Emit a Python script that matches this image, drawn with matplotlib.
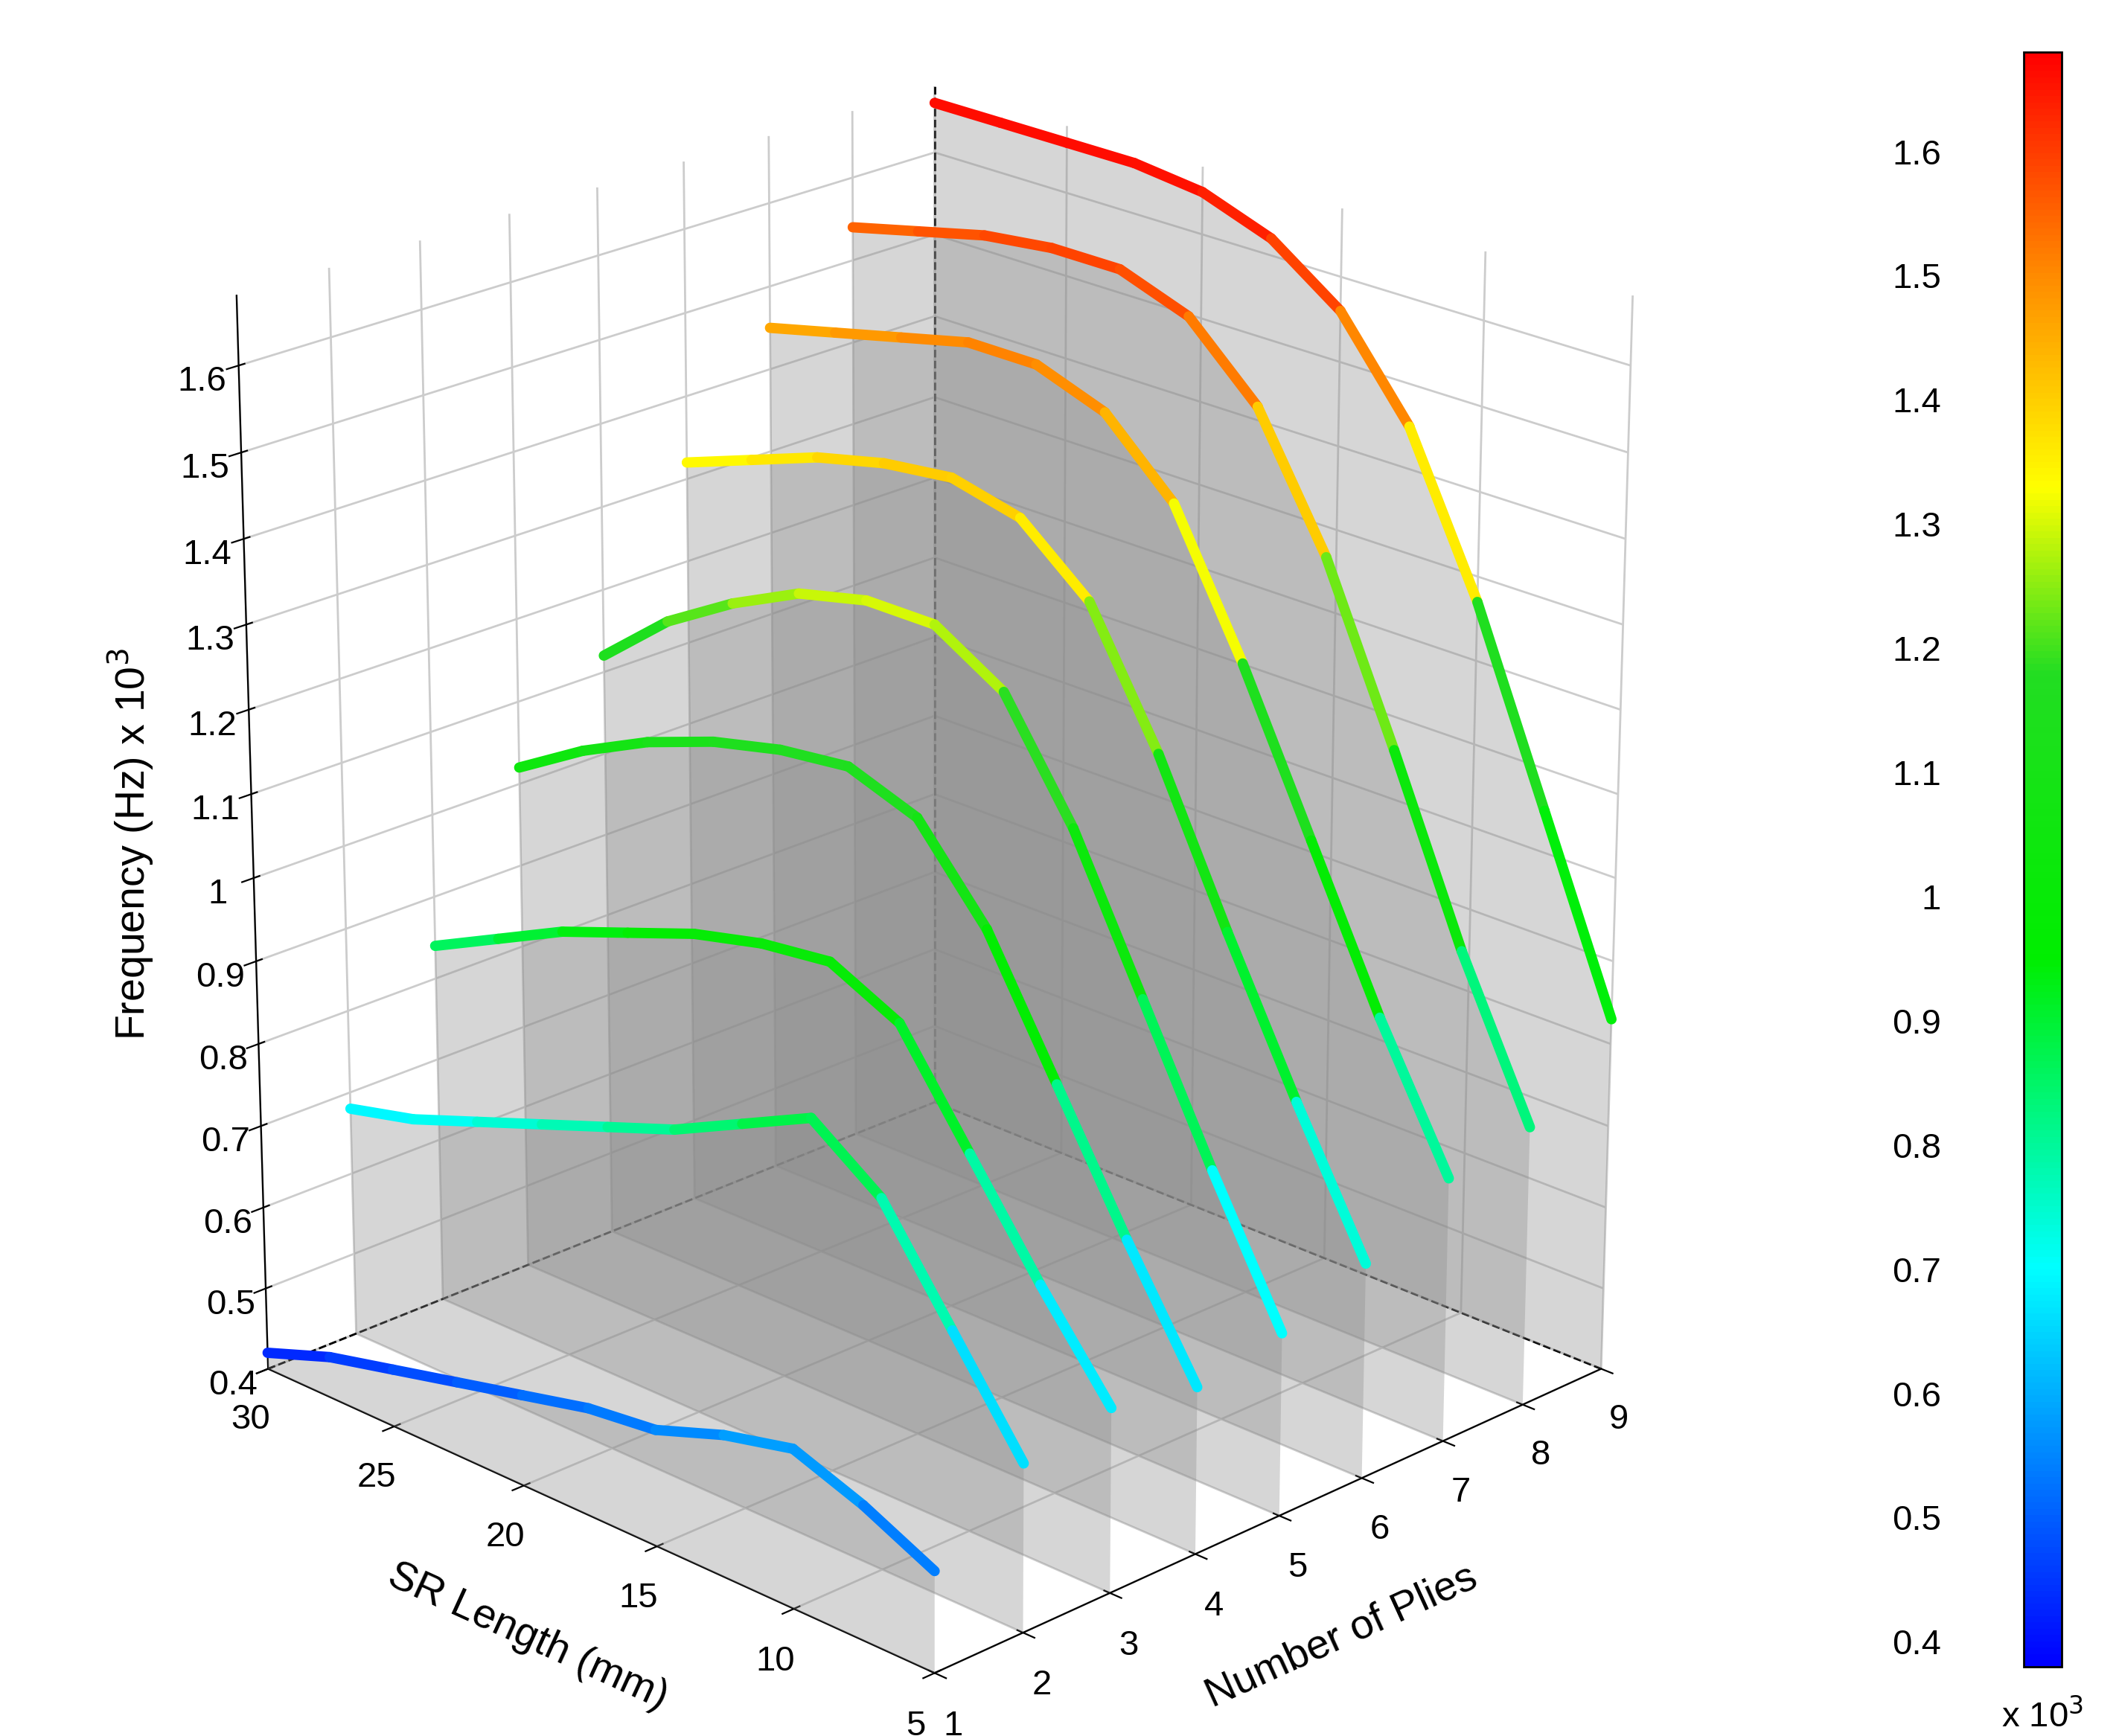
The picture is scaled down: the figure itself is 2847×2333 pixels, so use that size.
import numpy as np
import matplotlib
matplotlib.use("Agg")
import matplotlib.pyplot as plt
from mpl_toolkits.mplot3d.art3d import Poly3DCollection, Line3DCollection
from matplotlib import cm, colors

plt.rcParams['font.family'] = ['Liberation Sans', 'DejaVu Sans']

# --- data (frequency x 10^3 Hz) ---
sr_length = [30, 27.5, 25, 22.5, 20, 17.5, 15, 12.5, 10, 7.5, 5]
plies = [1, 2, 3, 4, 5, 6, 7, 8, 9]
freq = {
    1: [0.42, 0.45, 0.47, 0.49, 0.51, 0.53, 0.54, 0.57, 0.59, 0.56, 0.52],
    2: [0.68, 0.70, 0.73, 0.76, 0.79, 0.82, 0.86, 0.90, 0.84, 0.72, 0.60],
    3: [0.84, 0.88, 0.92, 0.95, 0.98, 1.00, 1.01, 0.97, 0.85, 0.73, 0.62],
    4: [1.02, 1.07, 1.11, 1.14, 1.16, 1.17, 1.14, 1.04, 0.89, 0.74, 0.60],
    5: [1.12, 1.19, 1.24, 1.28, 1.30, 1.30, 1.25, 1.12, 0.95, 0.78, 0.62],
    6: [1.32, 1.35, 1.38, 1.40, 1.41, 1.39, 1.32, 1.17, 0.99, 0.82, 0.66],
    7: [1.45, 1.47, 1.49, 1.51, 1.51, 1.48, 1.40, 1.24, 1.06, 0.88, 0.72],
    8: [1.54, 1.56, 1.58, 1.59, 1.59, 1.56, 1.48, 1.33, 1.13, 0.92, 0.74],
    9: [1.66, 1.66, 1.66, 1.66, 1.65, 1.62, 1.56, 1.45, 1.27, 1.05, 0.83],
}
z_ticks = [0.4, 0.5, 0.6, 0.7, 0.8, 0.9, 1, 1.1, 1.2, 1.3, 1.4, 1.5, 1.6]
cbar_ticks = [0.4, 0.5, 0.6, 0.7, 0.8, 0.9, 1, 1.1, 1.2, 1.3, 1.4, 1.5, 1.6]

ZMIN, ZMAX = 0.4, 1.68
VMIN, VMAX = 0.38, 1.68
norm = colors.Normalize(vmin=VMIN, vmax=VMAX)
# colour stops as seen on the reference colorbar
stop_vals = [0.38, 0.70, 0.95, 1.18, 1.33, 1.50, 1.68]
stop_cols = ['#0000ff', '#00ffff', '#00ee00', '#22dd22', '#ffff00', '#ff8c00', '#ff0000']
cmap = colors.LinearSegmentedColormap.from_list(
    'ref_jet', [((v - VMIN) / (VMAX - VMIN), c) for v, c in zip(stop_vals, stop_cols)])

fig = plt.figure(figsize=(14.235, 11.665), dpi=200)
ax = fig.add_axes([0.0, 0.0, 0.86, 1.0], projection='3d')

for p in plies:
    z = np.array(freq[p])
    y = np.array(sr_length, dtype=float)
    x = np.full_like(y, p)
    # gray wall under the curve
    verts = list(zip(x, y, z)) + [(p, y[-1], ZMIN), (p, y[0], ZMIN)]
    wall = Poly3DCollection([verts], facecolor=(0.55, 0.55, 0.55, 0.35), edgecolor='none')
    ax.add_collection3d(wall)
    # coloured curve
    pts = np.column_stack([x, y, z])
    segs = np.stack([pts[:-1], pts[1:]], axis=1)
    lc = Line3DCollection(segs, colors=cmap(norm((z[:-1] + z[1:]) / 2)), linewidths=5,
                          capstyle='round', joinstyle='round')
    ax.add_collection3d(lc)

# dashed guide lines on the floor and back corner
ax.plot([1, 9], [30, 30], [ZMIN, ZMIN], 'k--', lw=1)
ax.plot([9, 9], [5, 30], [ZMIN, ZMIN], 'k--', lw=1)
ax.plot([9, 9], [30, 30], [ZMIN, ZMAX], 'k--', lw=1)

ax.set_xlim(1, 9)
ax.set_ylim(5, 30)
ax.set_zlim(ZMIN, ZMAX)
ax.set_xticks(plies)
ax.set_yticks([5, 10, 15, 20, 25, 30])
ax.set_zticks(z_ticks)
ax.set_zticklabels([f"{t:g}" for t in z_ticks])
ax.tick_params(labelsize=17)
ax.set_xlabel("Number of Plies", fontsize=20, labelpad=18)
ax.set_ylabel("SR Length (mm)", fontsize=20, labelpad=18)
ax.zaxis.set_rotate_label(False)
ax.set_zlabel("Frequency (Hz) x 10$^3$", fontsize=20, labelpad=18, rotation=90)

for axis in (ax.xaxis, ax.yaxis, ax.zaxis):
    axis.set_pane_color((1, 1, 1, 1))
    axis._axinfo['grid']['color'] = (0.8, 0.8, 0.8, 1)
    axis._axinfo['grid']['linewidth'] = 1.0

ax.view_init(elev=22, azim=-135)
ax.set_box_aspect((1, 1, 1.2))

# colorbar
cax = fig.add_axes([0.955, 0.04, 0.018, 0.93])
sm = cm.ScalarMappable(norm=norm, cmap=cmap)
cb = fig.colorbar(sm, cax=cax, ticks=cbar_ticks)
cb.ax.yaxis.set_ticks_position('left')
cb.ax.set_yticklabels([f"{t:g}" for t in cbar_ticks])
cb.ax.tick_params(labelsize=17, length=0, pad=40)
cb.outline.set_linewidth(1)
cax.text(0.5, -0.02, "x 10$^3$", transform=cax.transAxes, ha='center', va='top', fontsize=17)

fig.savefig("out.png", dpi=200)
